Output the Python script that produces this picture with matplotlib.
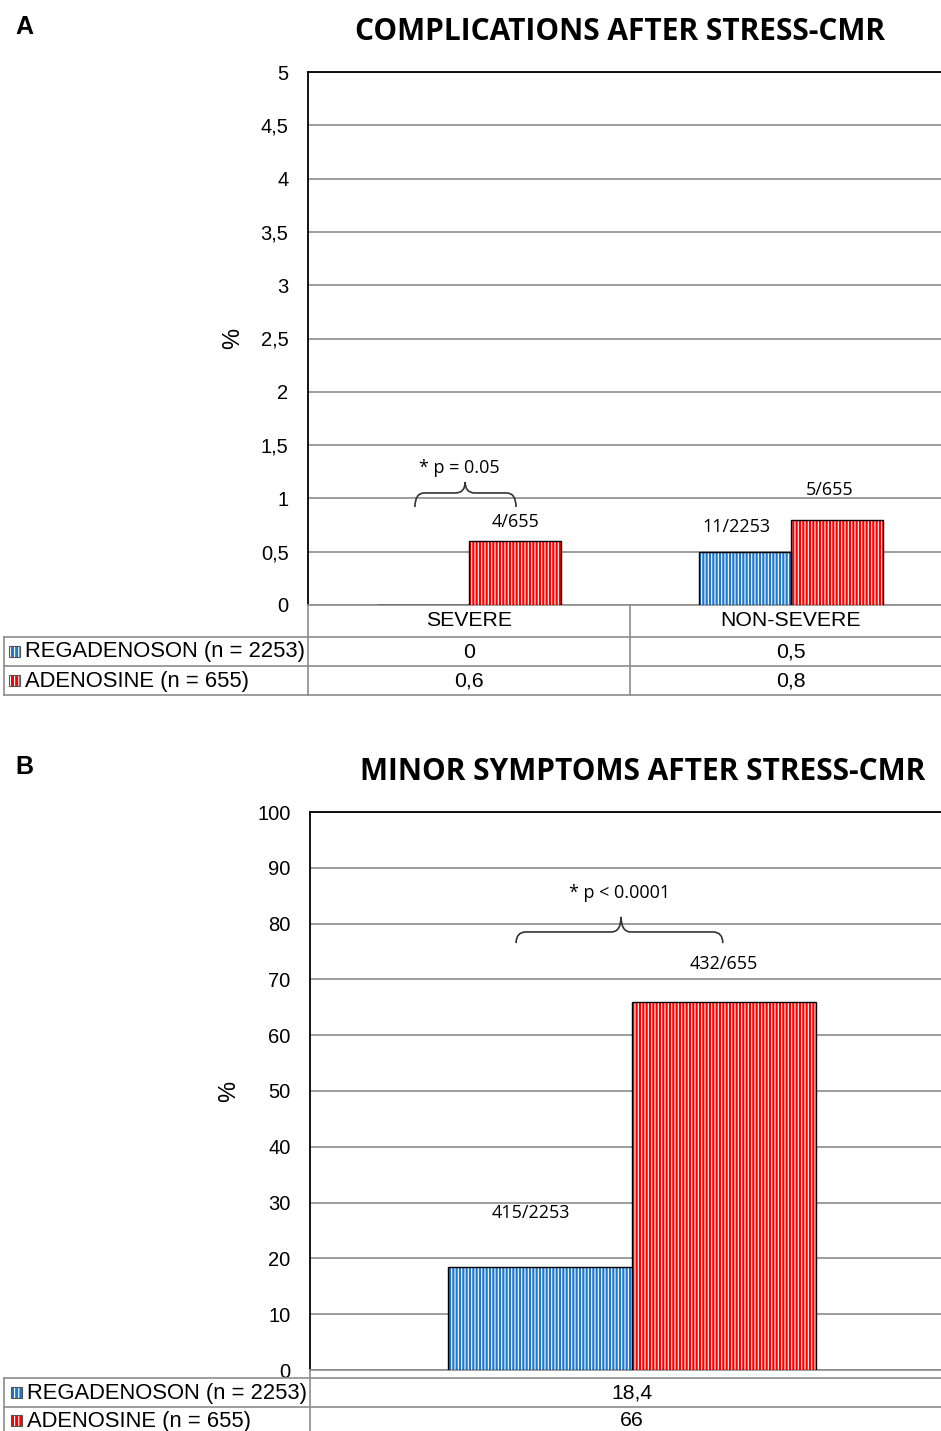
import numpy as np
import matplotlib
matplotlib.use("Agg")
import matplotlib.pyplot as plt
from matplotlib.patches import Rectangle, PathPatch
from matplotlib.path import Path
from matplotlib.lines import Line2D
from matplotlib.transforms import blended_transform_factory

# ── data ──────────────────────────────────────────────────────────────
series_names = ["REGADENOSON (n = 2253)", "ADENOSINE (n = 655)"]

a_categories = ["SEVERE", "NON-SEVERE"]
a_regadenoson = [0.0, 0.5]
a_adenosine = [0.6, 0.8]
a_counts_reg = ["", "11/2253"]
a_counts_ade = ["4/655", "5/655"]
a_pvalue = "* p = 0.05"
a_yticks = [0, 0.5, 1, 1.5, 2, 2.5, 3, 3.5, 4, 4.5, 5]

b_categories = [""]
b_regadenoson = [18.4]
b_adenosine = [66.0]
b_counts_reg = ["415/2253"]
b_counts_ade = ["432/655"]
b_pvalue = "* p < 0.0001"
b_yticks = list(range(0, 101, 10))

BLUE = "#1E78CC"
RED = "#FF0000"
GRID = "#8c8c8c"
W, H = 941, 1431

plt.rcParams["font.family"] = ["Liberation Sans", "DejaVu Sans"]
plt.rcParams["hatch.linewidth"] = 0.8
ANNOT_FONT = ["Open Sans", "DejaVu Sans"]
TITLE_FONT = ["Open Sans", "DejaVu Sans"]
ANNOT_SIZE = 13
TABLE_SIZE = 15.3
LABEL_SIZE = 15.8

fig = plt.figure(figsize=(W / 100, H / 100), dpi=100)


def fx(x):
    return x / W


def fy(y):
    return 1 - y / H


def hline(x0, x1, y, color=GRID, lw=1.2):
    fig.add_artist(Line2D([fx(x0), fx(x1)], [fy(y), fy(y)], color=color, lw=lw,
                          transform=fig.transFigure))


def vline(x, y0, y1, color=GRID, lw=1.2):
    fig.add_artist(Line2D([fx(x), fx(x)], [fy(y0), fy(y1)], color=color, lw=lw,
                          transform=fig.transFigure))


def fmt(v):
    return f"{v:g}".replace(".", ",")


def striped_bars(ax, x, h, w, color):
    ax.bar(x, h, w, color=color, edgecolor="white", hatch="|||||", lw=0, zorder=3)
    ax.bar(x, h, w, fill=False, edgecolor="black", lw=1.0, zorder=4)


def brace(ax, x0, x1, xm, y, ylow, ytip, dx):
    verts = [(x0, ylow), (x0, y), (x0 + dx, y),
             (xm - dx, y), (xm, y), (xm, ytip),
             (xm, y), (xm + dx, y),
             (x1 - dx, y), (x1, y), (x1, ylow)]
    codes = [Path.MOVETO, Path.CURVE3, Path.CURVE3,
             Path.LINETO, Path.CURVE3, Path.CURVE3,
             Path.CURVE3, Path.CURVE3,
             Path.LINETO, Path.CURVE3, Path.CURVE3]
    ax.add_patch(PathPatch(Path(verts, codes), fill=False, lw=1.2,
                           edgecolor="#333333", zorder=5, clip_on=False))


def setup_axes(rect, ymax, yticks, ticklabels):
    ax = fig.add_axes(rect)
    ax.set_ylim(0, ymax)
    ax.set_yticks(yticks)
    ax.set_yticklabels(ticklabels, fontsize=14.5)
    ax.tick_params(axis="y", length=0, pad=14)
    ax.set_xticks([])
    ax.grid(axis="y", color=GRID, lw=1.2, zorder=0)
    ax.set_axisbelow(True)
    ax.spines["right"].set_visible(False)
    ax.spines["bottom"].set_color(GRID)
    ax.spines["bottom"].set_linewidth(1.2)
    ax.spines["left"].set_linewidth(1.3)
    ax.spines["top"].set_linewidth(1.3)
    ax.set_ylabel("%", fontsize=17, labelpad=12)
    return ax


def legend_key(x, y, color):
    fig.add_artist(Rectangle((fx(x), fy(y + 11)), 11 / W, 11 / H, transform=fig.transFigure,
                             facecolor=color, edgecolor="white", hatch="||||", lw=0))
    fig.add_artist(Rectangle((fx(x), fy(y + 11)), 11 / W, 11 / H, transform=fig.transFigure,
                             fill=False, edgecolor="#555555", lw=0.8))


# ── panel A ───────────────────────────────────────────────────────────
axA = setup_axes([fx(308), fy(605), (952 - 308) / W, (605 - 72) / H], 5, a_yticks,
                 [fmt(t) for t in a_yticks])
axA.set_xlim(-0.5, 1.5)
bw = 0.287
xa = np.arange(len(a_categories))
striped_bars(axA, xa - bw / 2, a_regadenoson, bw, BLUE)
striped_bars(axA, xa + bw / 2, a_adenosine, bw, RED)
# counts above bars
axA.text(xa[1] - bw / 2 - 0.025, a_regadenoson[1] + 0.23, a_counts_reg[1],
         ha="center", va="center", fontsize=ANNOT_SIZE, family=ANNOT_FONT)
axA.text(xa[0] + bw / 2, a_adenosine[0] + 0.18, a_counts_ade[0],
         ha="center", va="center", fontsize=ANNOT_SIZE, family=ANNOT_FONT)
axA.text(xa[1] + bw / 2 - 0.022, a_adenosine[1] + 0.28, a_counts_ade[1],
         ha="center", va="center", fontsize=ANNOT_SIZE, family=ANNOT_FONT)
brace(axA, -0.168, 0.146, -0.012, 1.051, 0.919, 1.154, 0.03)
axA.text(-0.03, 1.285, a_pvalue, ha="center", va="center", fontsize=ANNOT_SIZE,
         family=ANNOT_FONT)

fig.text(fx(620), fy(32), "COMPLICATIONS AFTER STRESS-CMR", ha="center", va="center",
         fontsize=21.5, fontweight="bold", family=TITLE_FONT)
fig.text(fx(24), fy(27), "A", ha="center", va="center", fontsize=18, fontweight="bold")

# table A
vline(308, 605, 695)
vline(630, 605, 695)
for y in (637, 666, 695):
    hline(4, 941, y)
vline(4, 637, 695)
tA = blended_transform_factory(axA.transData, fig.transFigure)
for i, c in enumerate(a_categories):
    fig.text(xa[i], fy(621), c, transform=tA, ha="center", va="center", fontsize=TABLE_SIZE)
    fig.text(xa[i], fy(652), fmt(a_regadenoson[i]), transform=tA, ha="center",
             va="center", fontsize=TABLE_SIZE)
    fig.text(xa[i], fy(681), fmt(a_adenosine[i]), transform=tA, ha="center",
             va="center", fontsize=TABLE_SIZE)
for name, color, y in zip(series_names, [BLUE, RED], [652, 681]):
    legend_key(9, y - 6, color)
    fig.text(fx(25), fy(y), name, ha="left", va="center", fontsize=LABEL_SIZE)

# ── panel B ───────────────────────────────────────────────────────────
axB = setup_axes([fx(310), fy(1370), (954 - 310) / W, (1370 - 812) / H], 100, b_yticks,
                 [str(t) for t in b_yticks])
axB.set_xlim(-0.5, 0.5)
bw = 0.286
xb = np.arange(len(b_categories))
striped_bars(axB, xb - bw / 2, b_regadenoson, bw, BLUE)
striped_bars(axB, xb + bw / 2, b_adenosine, bw, RED)
axB.text(xb[0] - bw / 2 - 0.014, b_regadenoson[0] + 9.7, b_counts_reg[0],
         ha="center", va="center", fontsize=ANNOT_SIZE, family=ANNOT_FONT)
axB.text(xb[0] + bw / 2, b_adenosine[0] + 6.8, b_counts_ade[0],
         ha="center", va="center", fontsize=ANNOT_SIZE, family=ANNOT_FONT)
brace(axB, -0.180, 0.141, -0.017, 78.5, 76.5, 81.2, 0.0155)
axB.text(-0.019, 85.5, b_pvalue, ha="center", va="center", fontsize=ANNOT_SIZE,
         family=ANNOT_FONT)

fig.text(fx(643), fy(772), "MINOR SYMPTOMS AFTER STRESS-CMR", ha="center", va="center",
         fontsize=21.5, fontweight="bold", family=TITLE_FONT)
fig.text(fx(24), fy(767), "B", ha="center", va="center", fontsize=18, fontweight="bold")

vline(310, 1370, 1431)
for y in (1378, 1407):
    hline(4, 941, y)
vline(4, 1378, 1431)
tB = blended_transform_factory(axB.transData, fig.transFigure)
fig.text(xb[0], fy(1393), fmt(b_regadenoson[0]), transform=tB, ha="center", va="center",
         fontsize=TABLE_SIZE)
fig.text(xb[0], fy(1421), fmt(b_adenosine[0]), transform=tB, ha="center", va="center",
         fontsize=TABLE_SIZE)
for name, color, y in zip(series_names, [BLUE, RED], [1393, 1421]):
    legend_key(11, y - 6, color)
    fig.text(fx(27), fy(y), name, ha="left", va="center", fontsize=LABEL_SIZE)

fig.savefig("out.png", dpi=100)
